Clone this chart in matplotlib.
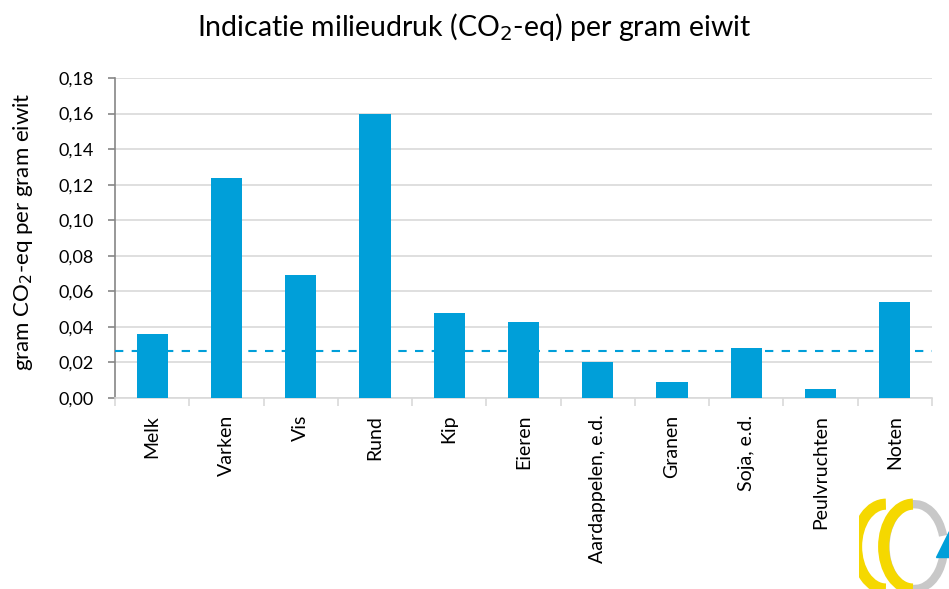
import matplotlib
matplotlib.use('Agg')
import matplotlib.pyplot as plt
import numpy as np
from matplotlib.patches import Arc, Polygon

categories = ['Melk', 'Varken', 'Vis', 'Rund', 'Kip', 'Eieren',
              'Aardappelen, e.d.', 'Granen', 'Soja, e.d.', 'Peulvruchten', 'Noten']
values = [0.036, 0.124, 0.069, 0.160, 0.048, 0.043, 0.020, 0.009, 0.028, 0.005, 0.054]
reference = 0.0264

blue = '#009FD9'
plt.rcParams['font.family'] = ['Lato', 'DejaVu Sans']

fig = plt.figure(figsize=(9.49, 5.89), dpi=100)
ax = fig.add_axes([0.1212, 0.3243, 0.8608, 0.5433])

x = np.arange(len(categories))
ax.bar(x, values, width=0.42, color=blue, zorder=3)
ax.axhline(reference, color=blue, linestyle=(0, (4, 4)), linewidth=1.5, zorder=4)

ax.set_xlim(-0.5, len(categories) - 0.5)
ax.set_ylim(0, 0.18)
yt = np.arange(0, 0.181, 0.02)
ax.set_yticks(yt)
ax.set_yticklabels([('%.2f' % v).replace('.', ',') for v in yt], fontsize=13)
ax.yaxis.grid(True, color='#d9d9d9', linewidth=1.2, zorder=0)

ax.set_xticks(x)
ax.set_xticklabels(categories, rotation=90, fontsize=14)
ax.tick_params(axis='x', length=0, pad=12)
ax.set_xticks(np.arange(-0.5, len(categories), 1), minor=True)
ax.tick_params(axis='x', which='minor', length=6, color='#d9d9d9', width=1.2)
ax.tick_params(axis='y', length=5, color='#868686', width=1.2, pad=10)

for s in ['top', 'right']:
    ax.spines[s].set_visible(False)
ax.spines['left'].set_color('#868686')
ax.spines['left'].set_linewidth(1.2)
ax.spines['bottom'].set_color('#d9d9d9')
ax.spines['bottom'].set_linewidth(1.2)

fig.text(0.024, 0.606, 'gram CO$_2$-eq per gram eiwit', rotation=90,
         ha='center', va='center', fontsize=16)
fig.text(0.5, 0.955, 'Indicatie milieudruk (CO$_2$-eq) per gram eiwit',
         ha='center', va='center', fontsize=20.5)

# logo in de hoek
lax = fig.add_axes([0.905, 0.0, 0.095, 0.16])
lax.set_xlim(0, 10)
lax.set_ylim(0, 10)
lax.axis('off')
lax.add_patch(Arc((6.2, 4.5), 6.5, 9, theta1=20, theta2=340, color='#c8c8c8', lw=6))
lax.add_patch(Arc((3.0, 4.5), 6.5, 9, theta1=90, theta2=270, color='#f5d800', lw=8))
lax.add_patch(Arc((6.0, 4.5), 6.5, 9, theta1=90, theta2=270, color='#f5d800', lw=8))
lax.add_patch(Polygon([[8.6, 3.4], [10, 3.4], [10, 6.2]], color=blue))

fig.savefig('out.png', dpi=100)
